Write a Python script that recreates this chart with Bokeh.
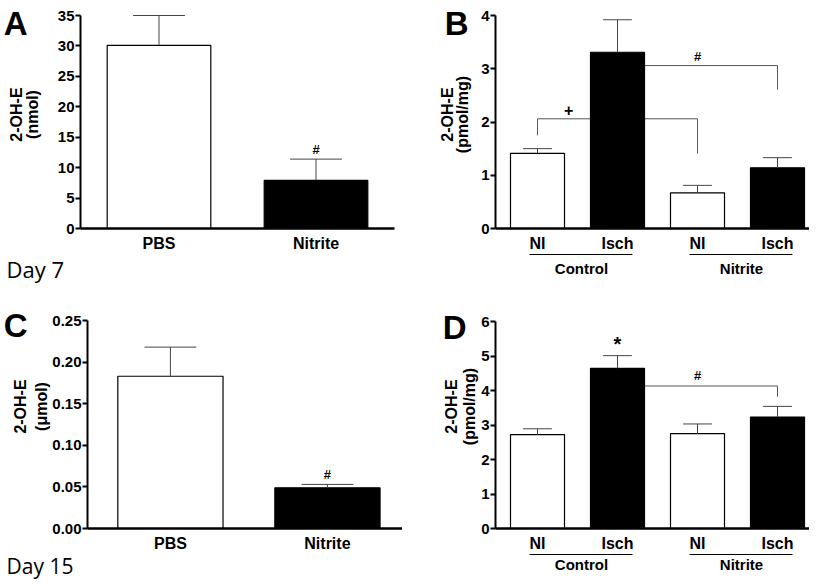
from bokeh.plotting import figure
from bokeh.layouts import column, row
from bokeh.models import (Range1d, FixedTicker, NumeralTickFormatter, LinearAxis,
                          ColumnDataSource, Title)
from bokeh.core.properties import value
from bokeh.embed import file_html
from bokeh.resources import INLINE

# ---------------- data ----------------
# Panel A: Day 7, total 2-OH-E (nmol)
a_groups = ["PBS", "Nitrite"]
a_mean = [30.1, 7.9]
a_err = [4.9, 3.5]
a_sig = ["", "#"]
a_yticks = [0, 5, 10, 15, 20, 25, 30, 35]

# Panel B: Day 7, 2-OH-E (pmol/mg)
b_conditions = ["NI", "Isch", "NI", "Isch"]
b_treatments = ["Control", "Nitrite"]
b_mean = [1.41, 3.31, 0.67, 1.14]
b_err = [0.09, 0.61, 0.14, 0.19]
b_sig = ["", "", "", ""]
b_yticks = [0, 1, 2, 3, 4]
# brackets: (from index, to index, level, left end, right end, mark, mark position, mark y)
b_brackets = [(0, 2, 2.06, 1.75, 1.41, "+", 1.39, 2.23),
              (1, 3, 3.06, 3.06, 2.61, "#", 3.0, 3.23)]

# Panel C: Day 15, total 2-OH-E (umol)
c_groups = ["PBS", "Nitrite"]
c_mean = [0.183, 0.049]
c_err = [0.035, 0.004]
c_sig = ["", "#"]
c_yticks = [0.0, 0.05, 0.10, 0.15, 0.20, 0.25]

# Panel D: Day 15, 2-OH-E (pmol/mg)
d_conditions = ["NI", "Isch", "NI", "Isch"]
d_treatments = ["Control", "Nitrite"]
d_mean = [2.72, 4.64, 2.75, 3.23]
d_err = [0.17, 0.37, 0.28, 0.31]
d_sig = ["", "*", "", ""]
d_yticks = [0, 1, 2, 3, 4, 5, 6]
d_brackets = [(1, 3, 4.13, 4.13, 3.82, "#", 3.0, 4.44)]

BOLD = "Liberation Sans"


class Spec:
    def __init__(self, W, H, L, R, T, B, x0, x1, ymax, top_px):
        self.W, self.H, self.L, self.R, self.T, self.B = W, H, L, R, T, B
        self.x0, self.x1, self.ymax = x0, x1, ymax
        self.fh = H - T - B
        # the top tick sits top_px below the frame top
        self.yend = ymax * self.fh / (self.fh - top_px)

    def px(self, n):
        return n * self.yend / self.fh

    def y_at(self, fy):
        return self.yend * (1 - (fy - self.T) / self.fh)


def make_fig(s, yticks, ylabel, label_standoff, fmt=None, line_height=0.92):
    p = figure(width=s.W, height=s.H, x_range=Range1d(s.x0, s.x1), y_range=Range1d(0, s.yend),
               output_backend="svg", toolbar_location=None,
               min_border_left=s.L, min_border_right=s.R, min_border_top=s.T,
               min_border_bottom=s.B)
    p.outline_line_color = None
    p.xgrid.visible = False
    p.ygrid.visible = False
    p.background_fill_color = "white"
    p.border_fill_color = "white"
    ya = p.yaxis[0]
    ya.ticker = FixedTicker(ticks=yticks)
    ya.bounds = (0, s.ymax)
    if fmt:
        ya.formatter = NumeralTickFormatter(format=fmt)
    ya.axis_line_width = 2
    ya.axis_line_color = "black"
    ya.major_tick_line_width = 2
    ya.major_tick_in = 0
    ya.major_tick_out = 5
    ya.minor_tick_line_color = None
    ya.major_label_text_font = BOLD
    ya.major_label_text_font_style = "bold"
    ya.major_label_text_font_size = "15px"
    ya.major_label_text_color = "black"
    ya.major_label_standoff = 1
    ya.axis_label = ylabel
    ya.axis_label_text_font = BOLD
    ya.axis_label_text_font_style = "bold"
    ya.axis_label_text_font_size = "16px"
    ya.axis_label_text_color = "black"
    ya.axis_label_text_line_height = line_height
    try:
        ya.axis_label_standoff = label_standoff
    except Exception:
        ya.axis_label_standoff = 0
    xa = p.xaxis[0]
    xa.axis_line_width = 2.5
    xa.axis_line_color = "black"
    xa.major_tick_line_color = None
    xa.major_tick_out = 0
    xa.minor_tick_line_color = None
    xa.major_label_text_font = BOLD
    xa.major_label_text_font_style = "bold"
    xa.major_label_text_font_size = "16px"
    xa.major_label_text_color = "black"
    xa.major_label_standoff = 6
    return p


def draw_bars(p, s, labels, mean, err, sig, width, capw, brackets=None):
    pos = [i + 1 for i in range(len(mean))]
    fills = ["white" if i % 2 == 0 else "black" for i in range(len(mean))]
    p.xaxis[0].ticker = FixedTicker(ticks=pos)
    p.xaxis[0].major_label_overrides = {k: v for k, v in zip(pos, labels)}
    if brackets:
        for (i, j, lvl, le, re, mark, mx, my) in brackets:
            p.multi_line(xs=[[pos[i], pos[i], pos[j], pos[j]]], ys=[[le, lvl, lvl, re]],
                         line_color="#555555", line_width=1)
            p.text(x=[mx], y=[my], text=[mark], text_font=value(BOLD), text_font_style="bold",
                   text_font_size="16px" if mark == "+" else "13px",
                   text_align="center", text_baseline="middle", text_color="black")
    src = ColumnDataSource(dict(x=pos, top=mean, fill=fills,
                                etop=[m + e for m, e in zip(mean, err)]))
    p.vbar(x="x", top="top", bottom=0, width=width, fill_color="fill",
           line_color="black", line_width=1.2, source=src)
    p.segment(x0="x", y0="top", x1="x", y1="etop", line_color="#444444", line_width=1, source=src)
    p.segment(x0=[x - capw / 2 for x in pos], y0=src.data["etop"],
              x1=[x + capw / 2 for x in pos], y1=src.data["etop"],
              line_color="#444444", line_width=1)
    for x, m, e, sg in zip(pos, mean, err, sig):
        if sg:
            fs = "20px" if sg == "*" else "13px"
            off = 12 if sg == "*" else 10
            p.text(x=[x], y=[m + e + s.px(off)], text=[sg], text_font=value(BOLD),
                   text_font_style="bold", text_font_size=fs, text_align="center",
                   text_baseline="middle", text_color="black")


def add_letter(p, s, letter, fy, standoff):
    y = round(s.y_at(fy), 5)
    ax = LinearAxis(ticker=FixedTicker(ticks=[y]), major_label_overrides={y: letter})
    ax.axis_line_color = None
    ax.major_tick_line_color = None
    ax.minor_tick_line_color = None
    ax.major_tick_in = 0
    ax.major_tick_out = 0
    ax.major_label_standoff = standoff
    ax.major_label_text_font = BOLD
    ax.major_label_text_font_style = "bold"
    ax.major_label_text_font_size = "33px"
    ax.major_label_text_color = "black"
    p.add_layout(ax, "left")


def add_day(p, s, text, size, standoff):
    t = Title(text=text, align="left", offset=-s.L, text_font="Open Sans",
              text_font_style="normal", text_font_size=size, text_color="black",
              vertical_align="bottom")
    try:
        t.standoff = standoff
    except Exception:
        t.standoff = 0
    p.add_layout(t, "below")


def bare_axis(**kw):
    ax = LinearAxis(ticker=FixedTicker(ticks=kw.pop("ticks", [])), **kw)
    ax.major_tick_line_color = None
    ax.minor_tick_line_color = None
    ax.major_tick_in = 0
    return ax


def add_groups(p, treatments, n_per_group, label_standoff):
    centers = []
    for g, t in enumerate(treatments):
        first = g * n_per_group + 1
        last = first + n_per_group - 1
        line = bare_axis(bounds=(first - 0.1, last + 0.19), axis_line_color="black",
                         axis_line_width=1.2, major_tick_out=0, major_label_standoff=0)
        p.add_layout(line, "below")
        centers.append((first + last) / 2 + 0.05)
    lab = bare_axis(ticks=centers, axis_line_color=None, major_tick_out=0,
                    major_label_standoff=label_standoff,
                    major_label_overrides={c: t for c, t in zip(centers, treatments)})
    lab.major_label_text_font = BOLD
    lab.major_label_text_font_style = "bold"
    lab.major_label_text_font_size = "15px"
    lab.major_label_text_color = "black"
    p.add_layout(lab, "below")


sa = Spec(402, 284, 74, 8, 0, 56, 0.5, 2.5, 35, 15)
sb = Spec(407, 284, 93, 0, 0, 56, 0.475, 4.4, 4, 15)
sc = Spec(402, 296, 81, 0, 0, 52, 0.472, 2.478, 0.25, 36)
sd = Spec(407, 296, 93, 0, 0, 52, 0.475, 4.4, 6, 37)

pa = make_fig(sa, a_yticks, "2-OH-E\n(nmol)", 14)
draw_bars(pa, sa, a_groups, a_mean, a_err, a_sig, 0.66, 0.33)
add_letter(pa, sa, "A", 14, -22)
add_day(pa, sa, "Day 7", "22px", -6)

pb = make_fig(sb, b_yticks, "2-OH-E\n(pmol/mg)", 7)
draw_bars(pb, sb, b_conditions, b_mean, b_err, b_sig, 0.675, 0.36, b_brackets)
add_letter(pb, sb, "B", 14, -33)
add_groups(pb, b_treatments, 2, 5)

pc = make_fig(sc, c_yticks, "2-OH-E\n(μmol)", -1, fmt="0.00", line_height=1.25)
draw_bars(pc, sc, c_groups, c_mean, c_err, c_sig, 0.67, 0.33)
add_letter(pc, sc, "C", 41.5, -18)
add_day(pc, sc, "Day 15", "21px", -10)

pd = make_fig(sd, d_yticks, "2-OH-E\n(pmol/mg)", 0, line_height=1.05)
draw_bars(pd, sd, d_conditions, d_mean, d_err, d_sig, 0.675, 0.36, d_brackets)
add_letter(pd, sd, "D", 43, -26)
add_groups(pd, d_treatments, 2, 1)

layout = column(row(pa, pb), row(pc, pd))
open("out.html", "w").write(file_html(layout, INLINE))
